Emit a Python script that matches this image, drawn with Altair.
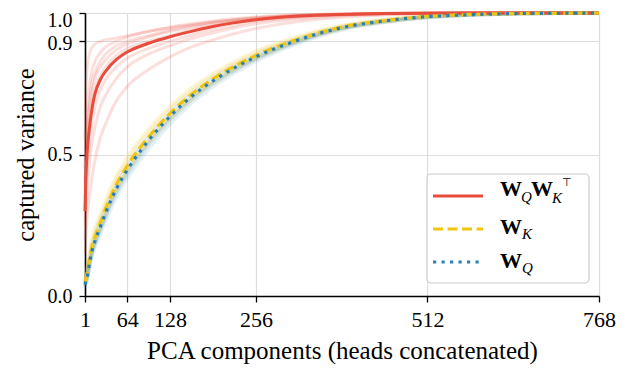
import altair as alt
import pandas as pd

# ---------------- data ----------------
x_pts = [1, 2, 4, 8, 12, 16, 24, 32, 48, 64, 96, 128, 160, 192, 256, 320, 384, 448, 512, 576, 640, 704, 768]

qk_main = [0.30, 0.40, 0.50, 0.60, 0.67, 0.715, 0.765, 0.795, 0.836, 0.862, 0.893, 0.916, 0.935, 0.952, 0.976, 0.989, 0.995, 0.998, 0.999, 1.0, 1.0, 1.0, 1.0]
k_main = [0.05, 0.06, 0.08, 0.135, 0.18, 0.21, 0.26, 0.31, 0.395, 0.46, 0.562, 0.645, 0.713, 0.767, 0.85, 0.908, 0.95, 0.973, 0.988, 0.995, 0.998, 0.999, 1.0]
q_main = [0.04, 0.05, 0.065, 0.12, 0.165, 0.195, 0.245, 0.295, 0.38, 0.445, 0.55, 0.635, 0.705, 0.76, 0.845, 0.905, 0.948, 0.972, 0.987, 0.994, 0.998, 0.999, 1.0]

qk_faint = [
    [0.55, 0.70, 0.80, 0.86, 0.88, 0.89, 0.90, 0.905, 0.912, 0.92, 0.935, 0.948, 0.958, 0.967, 0.982, 0.991, 0.996, 0.998, 0.999, 1, 1, 1, 1],
    [0.45, 0.55, 0.65, 0.75, 0.80, 0.83, 0.86, 0.88, 0.90, 0.915, 0.935, 0.95, 0.962, 0.972, 0.986, 0.993, 0.997, 0.999, 1, 1, 1, 1, 1],
    [0.40, 0.50, 0.60, 0.70, 0.76, 0.79, 0.83, 0.855, 0.885, 0.90, 0.92, 0.94, 0.955, 0.967, 0.983, 0.992, 0.996, 0.998, 1, 1, 1, 1, 1],
    [0.35, 0.45, 0.56, 0.67, 0.73, 0.77, 0.81, 0.835, 0.87, 0.89, 0.915, 0.935, 0.95, 0.962, 0.98, 0.99, 0.996, 0.998, 0.999, 1, 1, 1, 1],
    [0.30, 0.40, 0.50, 0.62, 0.69, 0.73, 0.78, 0.81, 0.85, 0.875, 0.90, 0.92, 0.94, 0.955, 0.977, 0.988, 0.995, 0.998, 0.999, 1, 1, 1, 1],
    [0.25, 0.34, 0.44, 0.55, 0.62, 0.67, 0.73, 0.765, 0.81, 0.84, 0.875, 0.90, 0.922, 0.94, 0.97, 0.985, 0.993, 0.997, 0.999, 1, 1, 1, 1],
    [0.20, 0.28, 0.37, 0.48, 0.55, 0.60, 0.67, 0.71, 0.77, 0.81, 0.855, 0.885, 0.91, 0.93, 0.962, 0.98, 0.99, 0.996, 0.998, 1, 1, 1, 1],
    [0.15, 0.20, 0.27, 0.36, 0.43, 0.48, 0.56, 0.61, 0.69, 0.74, 0.80, 0.845, 0.88, 0.905, 0.945, 0.97, 0.985, 0.993, 0.997, 0.999, 1, 1, 1],
]
k_faint = [
    [0.06, 0.075, 0.10, 0.16, 0.21, 0.24, 0.29, 0.34, 0.425, 0.49, 0.59, 0.67, 0.735, 0.785, 0.865, 0.918, 0.956, 0.977, 0.99, 0.996, 0.999, 1, 1],
    [0.055, 0.068, 0.09, 0.148, 0.195, 0.225, 0.275, 0.325, 0.41, 0.475, 0.576, 0.658, 0.724, 0.776, 0.857, 0.913, 0.953, 0.975, 0.989, 0.995, 0.998, 0.999, 1],
    [0.045, 0.055, 0.072, 0.125, 0.17, 0.20, 0.25, 0.298, 0.383, 0.448, 0.55, 0.634, 0.703, 0.758, 0.843, 0.903, 0.946, 0.97, 0.986, 0.994, 0.998, 0.999, 1],
    [0.04, 0.05, 0.065, 0.115, 0.16, 0.19, 0.24, 0.288, 0.372, 0.437, 0.54, 0.625, 0.695, 0.751, 0.838, 0.90, 0.944, 0.969, 0.985, 0.993, 0.997, 0.999, 1],
]
q_faint = [
    [0.05, 0.06, 0.078, 0.135, 0.18, 0.21, 0.26, 0.31, 0.395, 0.46, 0.563, 0.647, 0.715, 0.769, 0.851, 0.909, 0.95, 0.974, 0.988, 0.995, 0.998, 0.999, 1],
    [0.038, 0.048, 0.062, 0.115, 0.158, 0.188, 0.238, 0.287, 0.372, 0.437, 0.543, 0.628, 0.699, 0.755, 0.841, 0.902, 0.946, 0.97, 0.986, 0.994, 0.997, 0.999, 1],
    [0.035, 0.045, 0.058, 0.11, 0.153, 0.183, 0.232, 0.28, 0.365, 0.43, 0.535, 0.622, 0.693, 0.75, 0.837, 0.899, 0.944, 0.969, 0.985, 0.993, 0.997, 0.999, 1],
    [0.03, 0.04, 0.052, 0.10, 0.142, 0.17, 0.218, 0.265, 0.35, 0.415, 0.52, 0.608, 0.681, 0.739, 0.829, 0.893, 0.94, 0.966, 0.983, 0.992, 0.997, 0.999, 1],
]

x_ticks = [1, 64, 128, 256, 512, 768]
y_ticks = [0.0, 0.5, 0.9, 1.0]
x_title = "PCA components (heads concatenated)"
y_title = "captured variance"

RED, YEL, BLU = "#e74c3c", "#f1c40f", "#2980b9"
SERIF = "Liberation Serif"

# ---------------- tables ----------------
def long(series_list, name):
    rows = []
    for i, ys_ in enumerate(series_list):
        for xv, yv in zip(x_pts, ys_):
            rows.append({"x": xv, "y": yv, "line": f"{name}{i}"})
    return pd.DataFrame(rows)

df_qk_f = long(qk_faint, "qk")
df_k_f = long(k_faint, "k")
df_q_f = long(q_faint, "q")
df_qk = long([qk_main], "QK")
df_k = long([k_main], "K")
df_q = long([q_main], "Q")

xs = alt.Scale(domain=[1, 768], nice=False, zero=False)
ys = alt.Scale(domain=[0, 1], nice=False)

xaxis = alt.Axis(values=x_ticks, title=x_title, format="d", titleFontSize=25, labelFontSize=22)
yaxis = alt.Axis(
    values=y_ticks, title=y_title, format=".1f", titleFontSize=24.5, labelFontSize=20,
    labelOverlap=False, labelBound=False,
    labelOffset={
        "condition": [
            {"test": "datum.value > 0.95", "value": 7},
            {"test": "datum.value > 0.85", "value": 2},
        ],
        "value": 0,
    },
)


def line_layer(df, color, width, opacity, dash=None):
    kw = dict(color=color, strokeWidth=width, opacity=opacity, interpolate="monotone")
    if dash is not None:
        kw["strokeDash"] = dash
    return alt.Chart(df).mark_line(**kw).encode(
        x=alt.X("x:Q", scale=xs, axis=xaxis),
        y=alt.Y("y:Q", scale=ys, axis=yaxis),
        detail="line:N",
    )

layers = [
    line_layer(df_qk_f, RED, 3, 0.18),
    line_layer(df_k_f, YEL, 3.5, 0.18),
    line_layer(df_q_f, BLU, 3.5, 0.12),
    line_layer(df_qk, RED, 3, 1),
    line_layer(df_k, YEL, 3.2, 1, dash=[10, 4.5]),
    line_layer(df_q, BLU, 3.2, 1, dash=[3.2, 5.3]),
]

# ---------------- legend (drawn inside the plot) ----------------
one = pd.DataFrame({"a": [0]})
box = alt.Chart(one).mark_rect(
    fill="white", fillOpacity=0.85, stroke="#cccccc", strokeWidth=1.2, cornerRadius=4
).encode(x=alt.value(342), x2=alt.value(504), y=alt.value(161), y2=alt.value(270))
layers.append(box)

handles = [(183, RED, None), (216, YEL, [10, 4.5]), (249, BLU, [3.2, 5.3])]
for yy, col, dash in handles:
    kw = dict(color=col, strokeWidth=3.2)
    if dash:
        kw["strokeDash"] = dash
    layers.append(alt.Chart(one).mark_rule(**kw).encode(
        x=alt.value(348), x2=alt.value(398), y=alt.value(yy), y2=alt.value(yy)))

# (text, x, y, size, style, weight)
legend_parts = [
    ("W", 415, 183, 22, "normal", "bold"),
    ("Q", 436, 189, 15, "italic", "normal"),
    ("W", 446, 183, 22, "normal", "bold"),
    ("K", 467, 190, 15, "italic", "normal"),
    ("⊤", 477, 173, 11, "normal", "normal"),
    ("W", 415, 221, 22, "normal", "bold"),
    ("K", 437, 226, 15, "italic", "normal"),
    ("W", 415, 255, 22, "normal", "bold"),
    ("Q", 437, 260, 15, "italic", "normal"),
]
for t, px, py, sz, st, wt in legend_parts:
    font = "DejaVu Sans" if t == "⊤" else SERIF
    layers.append(alt.Chart(one).mark_text(
        align="left", baseline="alphabetic", font=font, fontSize=sz,
        fontStyle=st, fontWeight=wt, color="black"
    ).encode(x=alt.value(px), y=alt.value(py), text=alt.value(t)))

chart = alt.layer(*layers).properties(
    width=514, height=283,
    autosize=alt.AutoSizeParams(type="none"),
    padding={"left": 77, "top": 5, "right": 22, "bottom": 72},
).configure_view(stroke=None).configure_axis(
    labelFont=SERIF, labelColor="black",
    titleFont=SERIF, titleFontWeight="normal", titleColor="black",
    domainColor="black", domainWidth=1.6, tickColor="black", tickSize=6, tickWidth=1.3,
    gridColor="#dddddd", gridWidth=1.2, labelPadding=7,
).configure_axisX(titlePadding=8, labelFlush=False).configure_axisY(titlePadding=9)

chart.save("out.html", embed_options={"renderer": "svg", "actions": False})
